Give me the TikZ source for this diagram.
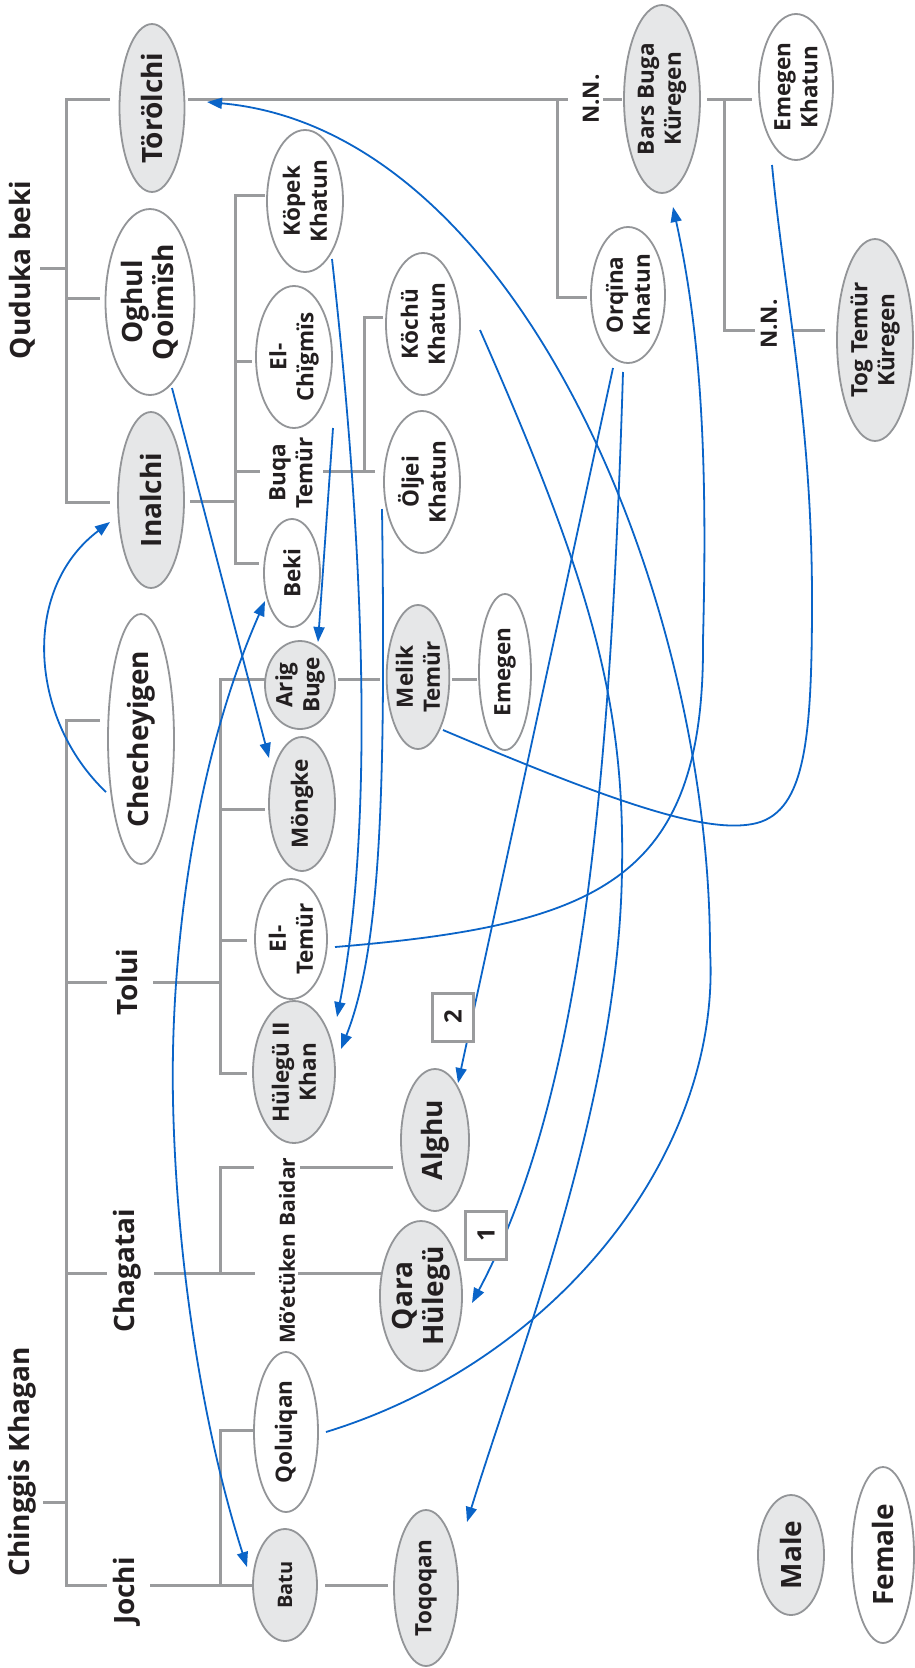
\documentclass[tikz,border=0pt]{standalone}
\usepackage{fontspec}
\setmainfont{Open Sans}
\usetikzlibrary{shapes.geometric,arrows.meta,calc}
\definecolor{tgrey}{HTML}{9A9B9D}
\definecolor{egrey}{HTML}{939598}
\definecolor{mfill}{HTML}{E6E7E8}
\definecolor{ablue}{HTML}{0A64C8}
\definecolor{ink}{HTML}{231F20}
\begin{document}
\begin{tikzpicture}[x=1pt,y=-1pt,
  tree/.style={draw=tgrey,line width=3pt},
  person/.style={ellipse,draw=egrey,line width=1.8pt,inner sep=0pt,rotate=90,align=center,text=ink},
  mnode/.style={person,fill=mfill},
  fnode/.style={person,fill=white},
  dims/.style 2 args={minimum height=#1,minimum width=#2},
  lbl/.style={rotate=90,align=center,text=ink,inner sep=0pt},
  fbig/.style={font=\fontsize{28}{31}\selectfont\bfseries},
  fmid/.style={font=\fontsize{22.5}{27}\selectfont\bfseries},
  fsub/.style={font=\fontsize{21}{25}\selectfont\bfseries},
  fsmall/.style={font=\fontsize{20}{22}\selectfont\bfseries},
  link/.style={draw=ablue,line width=1.8pt},
  arr/.style={link,-{Triangle[length=15pt,width=11pt]}},
  darr/.style={link,{Triangle[length=15pt,width=11pt]}-{Triangle[length=15pt,width=11pt]}},
  numbox/.style={draw=tgrey,line width=3pt,fill=white,minimum width=41pt,minimum height=48pt,inner sep=0pt,text=ink}
]
\useasboundingbox (0,0) rectangle (915,1668);
\fill[white] (0,0) rectangle (915,1668);

% ---------- grey tree lines ----------
% Quduka beki
\draw[tree] (40,268) -- (66,268);
\draw[tree] (110,99) -- (66,99) -- (66,502) -- (110,502);
\draw[tree] (66,298) -- (100,298);
\draw[tree] (188,99) -- (568,99);
\draw[tree] (557,99) -- (557,297) -- (587,297);
\draw[tree] (603,99) -- (622,99);
\draw[tree] (707,99) -- (752,99);
\draw[tree] (724,99) -- (724,330) -- (755,330);
\draw[tree] (793,330) -- (825,330);
\draw[tree] (190,501) -- (235,501);
\draw[tree] (265,195) -- (235,195) -- (235,563) -- (259,563);
\draw[tree] (235,361) -- (252,361);
\draw[tree] (235,471) -- (260,471);
\draw[tree] (323,471) -- (375,471);
\draw[tree] (383,317) -- (364,317) -- (364,471);
% Chinggis Khagan
\draw[tree] (43,1502) -- (66,1502);
\draw[tree] (100,720) -- (66,720) -- (66,1585) -- (107,1585);
\draw[tree] (66,982) -- (107,982);
\draw[tree] (153,982) -- (220,982);
\draw[tree] (267,679) -- (220,679) -- (220,1073) -- (247,1073);
\draw[tree] (220,809) -- (265,809);
\draw[tree] (220,940) -- (247,940);
\draw[tree] (338,679) -- (380,679);
\draw[tree] (452,679) -- (477,679);
\draw[tree] (66,1273) -- (107,1273);
\draw[tree] (154,1273) -- (255,1273);
\draw[tree] (254,1167) -- (220,1167) -- (220,1273);
\draw[tree] (300,1167) -- (393,1167);
\draw[tree] (298,1273) -- (382,1273);
\draw[tree] (150,1585) -- (252,1585);
\draw[tree] (253,1430) -- (220,1430) -- (220,1585);
\draw[tree] (325,1585) -- (388,1585);

% ---------- labels ----------
\node[lbl,fbig] (quduka) at (22,270) {Quduka beki};
\node[lbl,fbig] (chinggis) at (22,1462) {Chinggis Khagan};
\node[lbl,fbig] (tolui) at (127,982) {Tolui};
\node[lbl,fbig] (chagatai) at (127,1271) {Chagatai};
\node[lbl,fbig] (jochi) at (127,1591) {Jochi};
\node[lbl,fmid] (buqa) at (291,473) {Buqa\\Temür};
\node[lbl,fmid] (nn1) at (591,99) {N.N.};
\node[lbl,fmid] (nn2) at (769,324) {N.N.};
\node[lbl,fsub] (baidar) at (287,1192) {Baidar};
\node[lbl,fsub] (moetuken) at (287,1289) {Mö’etüken};

% ---------- persons ----------
\node[mnode,fbig,dims={65}{168}] (torolchi) at (152,108) {Törölchi};
\node[fnode,fbig,dims={89}{186}] (oghul) at (150,302) {Oghul\\Qoimïsh};
\node[mnode,fbig,dims={66}{176}] (inalchi) at (151,500) {Inalchi};
\node[fnode,fmid,dims={76}{142}] (kopek) at (305,201) {Köpek\\Khatun};
\node[fnode,fmid,dims={76}{142}] (elchigmis) at (294,357) {El-\\Chïgmïs};
\node[fnode,fmid,dims={56}{108}] (beki) at (292,573) {Beki};
\node[fnode,fmid,dims={74}{142}] (kochu) at (423,324) {Köchü\\Khatun};
\node[fnode,fmid,dims={76}{142}] (oljei) at (422,482) {Öljei\\Khatun};
\node[mnode,fmid,dims={76}{188}] (barsbuga) at (662,99) {Bars Buga\\Küregen};
\node[fnode,fmid,dims={74}{136}] (orqina) at (628,295) {Orqïna\\Khatun};
\node[fnode,fmid,dims={74}{146}] (emegenk) at (796,87) {Emegen\\Khatun};
\node[mnode,fmid,dims={76}{202}] (togtemur) at (875,340) {Tog Temür\\Küregen};

\node[fnode,fbig,dims={66}{230}] (checheyigen) at (141,739) {Checheyigen};
\node[mnode,fmid,dims={66}{88}] (ariqbuge) at (300,685) {Arig\\Buge};
\node[mnode,fmid,dims={66}{134}] (mongke) at (302,804) {Möngke};
\node[fnode,fmid,dims={72}{120}] (eltemur) at (291,939) {El-\\Temür};
\node[mnode,fmid,dims={82}{136}] (hulegu) at (294,1072) {Hülegü II\\Khan};
\node[mnode,fmid,dims={60}{144}] (melik) at (418,677) {Melik\\Temür};
\node[fnode,fmid,dims={52}{156}] (emegen) at (505,672) {Emegen};

\node[mnode,fbig,dims={68}{142}] (alghu) at (435,1140) {Alghu};
\node[mnode,fbig,dims={76}{150}] (qara) at (421,1296) {Qara\\Hülegü};
\node[fnode,fmid,dims={64}{160}] (qoluiqan) at (286,1432) {Qoluiqan};
\node[mnode,fsmall,dims={64}{112}] (batu) at (285,1585) {Batu};
\node[mnode,fmid,dims={64}{156}] (toqoqan) at (426,1588) {Toqoqan};

\node[mnode,fbig,dims={66}{120}] (male) at (791,1555) {Male};
\node[fnode,fbig,dims={62}{176}] (female) at (883,1555) {Female};

% ---------- blue connectors ----------
\draw[arr] ($(qoluiqan)+(40,0)$) .. controls (560,1360) and (722,1150) .. (710,950)
  .. controls (710,600) and (520,130) .. ($(torolchi)+(55,-6)$);
\draw[arr] ($(checheyigen)+(-35,53)$) .. controls (30,720) and (20,590) .. ($(inalchi)+(-41,22)$);
\draw[arr] ($(oghul)+(22,86)$) -- ($(mongke)+(-33,-46)$);
\draw[arr] ($(elchigmis)+(39,71)$) -- ($(ariqbuge)+(18,-43)$);
\draw[arr] ($(kopek)+(27,58)$) .. controls (370,600) and (370,850) .. ($(hulegu)+(43,-55)$);
\draw[arr] ($(oljei)+(-40,27)$) .. controls (386,800) and (380,950) .. ($(hulegu)+(47,-23)$);
\draw[darr] ($(beki)+(-27,28)$) .. controls (195,760) and (170,950) .. (173,1100)
  .. controls (176,1250) and (200,1420) .. ($(batu)+(-38,-18)$);
\draw[arr] ($(eltemur)+(44,8)$) .. controls (600,925) and (705,880) .. (703,640)
  .. controls (708,450) and (700,330) .. ($(barsbuga)+(11,108)$);
\draw[link] ($(melik)+(25,53)$) .. controls (620,805) and (710,835) .. (757,823)
  .. controls (805,810) and (812,740) .. (812,600)
  .. controls (812,420) and (785,300) .. ($(emegenk)+(-24,78)$);
\draw[arr] ($(orqina)+(-15,73)$) -- ($(alghu)+(23,-57)$);
\draw[arr] ($(orqina)+(-5,77)$) .. controls (610,800) and (580,1100) .. ($(qara)+(51,7)$);
\draw[arr] ($(kochu)+(57,6)$) .. controls (590,580) and (625,700) .. (622,870)
  .. controls (619,1100) and (520,1350) .. ($(toqoqan)+(41,-66)$);

% ---------- number boxes ----------
\node[numbox] (box2) at (453,1017) {\rotatebox{90}{\fontsize{24}{28}\selectfont\bfseries 2}};
\node[numbox] (box1) at (486,1235) {\rotatebox{90}{\fontsize{24}{28}\selectfont\bfseries 1}};
\end{tikzpicture}
\end{document}
